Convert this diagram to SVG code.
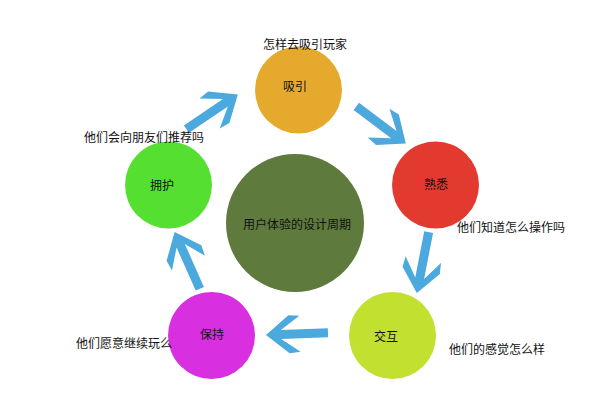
<svg xmlns="http://www.w3.org/2000/svg" width="615" height="400" viewBox="0 0 615 400">
  <defs>
    <style>
      .lbl { font-family: "Noto Sans CJK SC", "Liberation Sans", sans-serif; font-size: 12px; fill: #111; text-anchor: middle; dominant-baseline: central; }
      .arrow { fill: #4BA9DE; }
    </style>
    <path id="arr" d="M1,0 L-22,-19 L-33,-18 L-14,-4.5 L-61,-4.5 L-61,4.5 L-14,4.5 L-33,18 L-22,19 Z"/>
  </defs>
  <rect width="615" height="400" fill="#ffffff"/>

  <g id="connectors" class="arrow">
    <use href="#arr" transform="translate(237,95) rotate(-34)"/>
    <use href="#arr" transform="translate(405,143) rotate(37)"/>
    <use href="#arr" transform="translate(417,292) rotate(101)"/>
    <use href="#arr" transform="translate(267,335) rotate(178)"/>
    <use href="#arr" transform="translate(175,233) rotate(-114)"/>
  </g>

  <g id="center">
    <circle cx="295" cy="223" r="69" fill="#5E7A3C"/>
    <text class="lbl" x="297" y="223">用户体验的设计周期</text>
  </g>

  <g id="attract">
    <circle cx="298.5" cy="90" r="43.5" fill="#E5A92E"/>
    <text class="lbl" x="295" y="85">吸引</text>
    <text class="lbl" x="305" y="43">怎样去吸引玩家</text>
  </g>

  <g id="familiar">
    <circle cx="435.5" cy="185" r="43.5" fill="#E33A30"/>
    <text class="lbl" x="436" y="183">熟悉</text>
    <text class="lbl" x="511" y="226">他们知道怎么操作吗</text>
  </g>

  <g id="interact">
    <circle cx="392.5" cy="335.5" r="43.5" fill="#C2E030"/>
    <text class="lbl" x="386" y="335">交互</text>
    <text class="lbl" x="497" y="348">他们的感觉怎么样</text>
  </g>

  <g id="retain">
    <circle cx="211.5" cy="335.5" r="43.5" fill="#D830E0"/>
    <text class="lbl" x="212" y="333">保持</text>
    <text class="lbl" x="124" y="342">他们愿意继续玩么</text>
  </g>

  <g id="advocate">
    <circle cx="168.5" cy="185" r="43.5" fill="#55E031"/>
    <text class="lbl" x="162" y="184">拥护</text>
    <text class="lbl" x="144" y="136">他们会向朋友们推荐吗</text>
  </g>
</svg>
